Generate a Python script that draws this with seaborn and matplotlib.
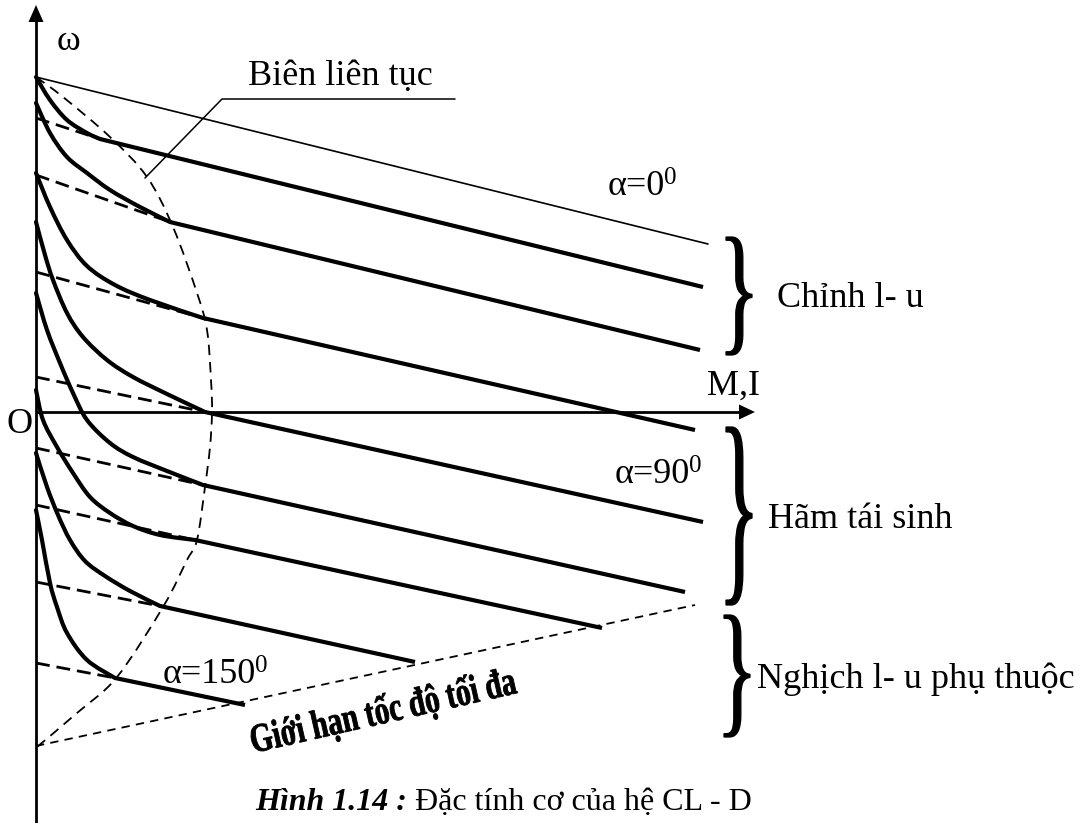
import numpy as np
import pandas as pd
import matplotlib
matplotlib.use("Agg")
import matplotlib.pyplot as plt
import seaborn as sns
from matplotlib.path import Path
from matplotlib.patches import PathPatch, Polygon
from matplotlib.textpath import TextPath
from matplotlib.font_manager import FontProperties
from matplotlib.transforms import Affine2D

# ---------------------------------------------------------------------------
# Mechanical characteristics of the controlled-rectifier / DC motor drive.
# Units are arbitrary: M (torque / current) to the right, omega (speed) upward,
# origin O at the crossing of the axes.
# ---------------------------------------------------------------------------

# ideal no-load speed of each characteristic (start of the dashed part)
omega_ideal = [294, 237, 140, 35, -36, -93, -170, -251]
# knee point where the continuous-current (straight) part begins
M_knee = [64, 134, 167, 169, 167, 159, 124, 79]
omega_knee = [273, 190, 94, 0, -73, -128, -194, -266]
# end of each straight characteristic
M_end = [667, 664, 659, 667, 649, 566, 379, 209]
omega_end = [125, 62, -18, -110, -180, -216, -250, -293]

# discontinuous-current branches (from the omega axis down to the knee)
disc_M = [
    [0, 14, 31, 51, 64],
    [0, 14, 31, 51, 74, 104, 134],
    [0, 14, 31, 51, 79, 114, 167],
    [0, 9, 17, 31, 47, 71, 97, 131, 169],
    [0, 11, 24, 37, 51, 74, 97, 131, 167],
    [0, 7, 21, 37, 54, 74, 97, 124, 159],
    [0, 11, 22, 34, 49, 69, 94, 124],
    [0, 6, 14, 21, 31, 51, 79],
]
disc_omega = [
    [335, 312, 292, 279, 273],
    [309, 279, 255, 239, 222, 205, 190],
    [239, 205, 172, 146, 127, 112, 94],
    [190, 157, 132, 99, 75, 52, 35, 18, 0],
    [119, 82, 49, 19, -8, -31, -45, -59, -73],
    [22, -8, -35, -61, -85, -101, -114, -123, -128],
    [-41, -75, -103, -128, -149, -164, -179, -194],
    [-98, -128, -171, -195, -221, -248, -266],
]

# boundary between continuous and discontinuous current ("Biên liên tục")
boundary_M = [0, 27, 74, 111, 137, 161, 171, 175, 176, 174, 169, 161, 151, 127, 81, 41, 1]
boundary_omega = [335, 315, 275, 235, 185, 119, 82, 32, 0, -35, -75, -128, -148, -195, -265, -301, -335]

# ideal characteristic for alpha = 0 deg
ideal0_M = [0, 672]
ideal0_omega = [335, 168]

# maximum speed limit line
limit_M = [0, 659]
limit_omega = [-334, -193]

# operating regions marked by braces: (omega bottom, omega top, label)
region_low = [57, -193, -325]
region_high = [175, -15, -203]
region_labels = ["Chỉnh l- u", "Hãm tái sinh", "Nghịch l- u phụ thuộc"]

alpha_text = ["α=0", "α=90", "α=150"]

# ---------------------------------------------------------------------------
sns.set_theme(style="white")
plt.rcParams["font.family"] = ["Liberation Serif", "DejaVu Serif"]
plt.rcParams["text.color"] = "black"
plt.rcParams["lines.scale_dashes"] = False

W, H = 1084, 823
fig = plt.figure(figsize=(W / 100, H / 100), dpi=100)
fig.patch.set_facecolor("white")
ax = fig.add_axes([0, 0, 1, 1])
ax.set_facecolor("white")

K = "black"
LW_THICK = 3.0
FS = 26


def smooth_path(xs, ys):
    """Catmull-Rom curve through the given points, as a Bezier path."""
    p = np.column_stack([xs, ys]).astype(float)
    n = len(p)
    verts = [p[0]]
    codes = [Path.MOVETO]
    for i in range(n - 1):
        p0 = p[i - 1] if i > 0 else p[i]
        p1, p2 = p[i], p[i + 1]
        p3 = p[i + 2] if i + 2 < n else p[i + 1]
        verts += [p1 + (p2 - p0) / 6.0, p2 - (p3 - p1) / 6.0, p2]
        codes += [Path.CURVE4] * 3
    return Path(verts, codes)


# straight continuous-current characteristics
rows = []
for i in range(len(M_knee)):
    rows.append({"id": i, "M": M_knee[i], "omega": omega_knee[i]})
    rows.append({"id": i, "M": M_end[i], "omega": omega_end[i]})
lines_df = pd.DataFrame(rows)
sns.lineplot(data=lines_df, x="M", y="omega", units="id", estimator=None,
             sort=False, color=K, lw=LW_THICK, ax=ax, legend=False,
             solid_capstyle="butt")

# dashed extensions back to the ideal no-load speed
for i in range(len(M_knee)):
    ax.plot([0, M_knee[i]], [omega_ideal[i], omega_knee[i]], color=K, lw=2.0,
            linestyle=(0, (10, 5)), dash_capstyle="butt")

# discontinuous-current branches
for xs, ys in zip(disc_M, disc_omega):
    ax.add_patch(PathPatch(smooth_path(xs, ys), fill=False, edgecolor=K,
                           lw=LW_THICK, capstyle="round", joinstyle="round"))

# continuous-current boundary
ax.add_patch(PathPatch(smooth_path(boundary_M, boundary_omega), fill=False,
                       edgecolor=K, lw=1.3, linestyle=(0, (7.5, 5))))

# alpha = 0 characteristic
ax.plot(ideal0_M, ideal0_omega, color=K, lw=1.2)

# speed limit
ax.plot(limit_M, limit_omega, color=K, lw=1.3, linestyle=(0, (6, 4.5)))

# axes with arrow heads
ax.plot([0, 0], [-415, 392], color=K, lw=2.0, solid_capstyle="butt")
ax.plot([0, 705], [0, 0], color=K, lw=2.0, solid_capstyle="butt")
ax.add_patch(Polygon([[-7.5, 390], [7.5, 390], [0, 407]], closed=True, color=K, lw=0))
ax.add_patch(Polygon([[703, 7.5], [703, -7.5], [719, 0]], closed=True, color=K, lw=0))

# axis names
ax.text(21, 362, "ω", fontsize=FS, ha="left", va="baseline")
ax.text(671, 17, "M,I", fontsize=FS, ha="left", va="baseline")
ax.text(-3, -21, "O", fontsize=FS, ha="right", va="baseline")

# boundary label with leader
ax.text(212, 327, "Biên liên tục", fontsize=FS, ha="left", va="baseline")
ax.plot([109, 186, 419], [234, 313, 313], color=K, lw=1.1)

# alpha labels with superscript degree mark
alpha_pos = [(572, 217), (579, -71), (127, -271)]
for txt, (x, y) in zip(alpha_text, alpha_pos):
    t = ax.text(x, y, txt, fontsize=FS, ha="left", va="baseline")
    ax.annotate("0", xy=(1.0, 1.0), xycoords=t, xytext=(-1.0, 2.5),
                textcoords="offset points", fontsize=18, ha="left", va="top")

# braces for the operating regions
brace_glyph = TextPath((0, 0), "}", size=100, prop=FontProperties(family="Liberation Serif"))
bext = brace_glyph.get_extents()
brace_left = [690, 690, 688]
brace_width = 26
for lo, hi, bl in zip(region_low, region_high, brace_left):
    tr = (Affine2D().translate(-bext.x0, -bext.y0)
          .scale(brace_width / bext.width, (hi - lo) / bext.height)
          .translate(bl, lo))
    ax.add_patch(PathPatch(tr.transform_path(brace_glyph), facecolor=K,
                           edgecolor=K, lw=0.9))

label_pos = [(741, 105), (732, -116), (721, -276)]
for txt, (x, y) in zip(region_labels, label_pos):
    ax.text(x, y, txt, fontsize=FS, ha="left", va="baseline")

# speed-limit label, tall bold lettering along the limit line
lim_path = TextPath((0, 0), "Giới hạn tốc độ tối đa", size=30,
                    prop=FontProperties(family="Liberation Serif", weight="bold"))
lim_tr = Affine2D().scale(0.98, 1.35).rotate_deg(12.8).translate(217, -341)
ax.add_patch(PathPatch(lim_tr.transform_path(lim_path), facecolor=K,
                       edgecolor=K, lw=0.6))

# caption
cap1 = ax.text(219, -398, "Hình 1.14 :", fontsize=23, fontweight="bold",
               fontstyle="italic", ha="left", va="baseline")
ax.annotate(" Đặc tính cơ của hệ CL - D", xy=(1.0, 0.0), xycoords=cap1,
            fontsize=23, ha="left", va="bottom")

ax.set_xlim(-36, W - 36)
ax.set_ylim(412 - H, 412)
ax.set_aspect("auto")
ax.axis("off")

fig.savefig("out.png", dpi=100, facecolor="white")
